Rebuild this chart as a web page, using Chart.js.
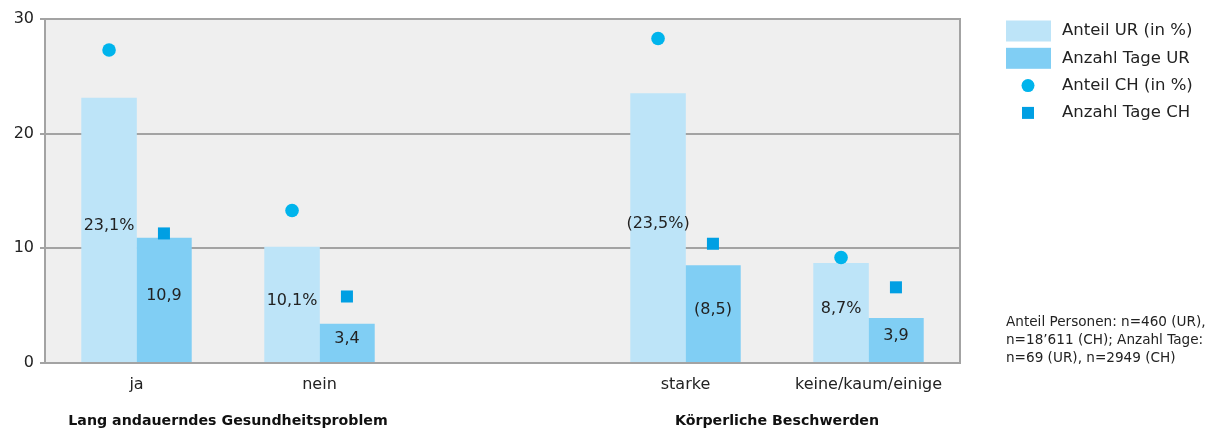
<!DOCTYPE html>
<html>
<head>
<meta charset="utf-8">
<script src="https://cdn.jsdelivr.net/npm/chart.js@4/dist/chart.umd.min.js"></script>
<style>
  html, body { margin: 0; padding: 0; background: #fff; }
  #wrap { width: 1215px; height: 433px; position: relative; }
</style>
</head>
<body>
<div id="wrap"><canvas id="chart" width="1215" height="433"></canvas></div>
<script>
const categories = ["ja", "nein", "", "starke", "keine/kaum/einige"];
const anteilUR = [23.1, 10.1, null, 23.5, 8.7];
const tageUR = [10.9, 3.4, null, 8.5, 3.9];
const anteilCH = [27.3, 13.3, null, 28.3, 9.2];
const tageCH = [11.3, 5.8, null, 10.4, 6.6];
const anteilURLabels = ["23,1%", "10,1%", "", "(23,5%)", "8,7%"];
const tageURLabels = ["10,9", "3,4", "", "(8,5)", "3,9"];
const groups = [
	{ text: "Lang andauerndes Gesundheitsproblem", from: 0, to: 1 },
	{ text: "Körperliche Beschwerden", from: 3, to: 4 }
];
const legendNames = ["Anteil UR (in %)", "Anzahl Tage UR", "Anteil CH (in %)", "Anzahl Tage CH"];
const noteLines = ["Anteil Personen: n=460 (UR),", "n=18’611 (CH); Anzahl Tage:", "n=69 (UR), n=2949 (CH)"];

const FONT = "'DejaVu Sans', sans-serif";
const colLight = "#bde4f8";
const colMid = "#80cef4";
const colCircle = "#00b4ec";
const colSquare = "#009fe3";
const frameColor = "#a3a3a3";

// "Anteil" sits left of the category centre, "Anzahl Tage" right of it
const SHIFT = 0.15;
function toPoints(values, shift) {
	return values.map((v, i) => (v === null ? null : { x: i + shift, y: v })).filter(p => p);
}

const framePlugin = {
	id: "frame",
	beforeDraw(chart) {
		const { ctx, chartArea: a } = chart;
		ctx.save();
		ctx.fillStyle = "#efefef";
		ctx.fillRect(a.left, a.top, a.right - a.left, a.bottom - a.top);
		ctx.restore();
	},
	afterDatasetsDraw(chart) {
		const { ctx, chartArea: a } = chart;
		ctx.save();
		ctx.strokeStyle = frameColor;
		ctx.lineWidth = 2;
		ctx.strokeRect(a.left, a.top, a.right - a.left, a.bottom - a.top);

		// value labels inside the bars
		ctx.fillStyle = "#222";
		ctx.font = "16px " + FONT;
		ctx.textAlign = "center";
		ctx.textBaseline = "middle";
		[anteilURLabels, tageURLabels].forEach((labels, d) => {
			const src = chart.data.datasets[d].data;
			chart.getDatasetMeta(d).data.forEach((bar, j) => {
				const text = labels[Math.round(src[j].x)];
				if (!text) return;
				const p = bar.getProps(["x", "y", "base"], true);
				ctx.fillText(text, p.x, (p.y + p.base) / 2 - 4);
			});
		});

		// group titles under the category labels
		const xs = chart.scales.x;
		ctx.font = "bold 14.2px " + FONT;
		ctx.fillStyle = "#111";
		groups.forEach(g => {
			const cx = (xs.getPixelForValue(g.from) + xs.getPixelForValue(g.to)) / 2;
			ctx.fillText(g.text, cx, 421);
		});

		// legend
		const lx = 1006;
		ctx.textAlign = "left";
		ctx.font = "16.5px " + FONT;
		legendNames.forEach((name, i) => {
			const cy = 31 + i * 27.3;
			if (i === 0 || i === 1) {
				ctx.fillStyle = i === 0 ? colLight : colMid;
				ctx.fillRect(lx, cy - 10.5, 45, 21);
			} else if (i === 2) {
				ctx.fillStyle = colCircle;
				ctx.beginPath();
				ctx.arc(lx + 22, cy, 6.5, 0, Math.PI * 2);
				ctx.fill();
			} else {
				ctx.fillStyle = colSquare;
				ctx.fillRect(lx + 16, cy - 6, 12, 12);
			}
			ctx.fillStyle = "#222";
			ctx.fillText(name, 1062, cy);
		});

		// sample size note
		ctx.font = "13.6px " + FONT;
		noteLines.forEach((line, i) => ctx.fillText(line, 1006, 322 + i * 18));
		ctx.restore();
	}
};

const barOpts = { xAxisID: "xp", grouped: false, categoryPercentage: 1, barPercentage: 1 };

new Chart(document.getElementById("chart"), {
	data: {
		labels: categories,
		datasets: [
			Object.assign({
				type: "bar",
				label: legendNames[0],
				data: toPoints(anteilUR, -SHIFT),
				backgroundColor: colLight,
				order: 2
			}, barOpts),
			Object.assign({
				type: "bar",
				label: legendNames[1],
				data: toPoints(tageUR, SHIFT),
				backgroundColor: colMid,
				order: 2
			}, barOpts),
			{
				type: "scatter",
				label: legendNames[2],
				xAxisID: "xp",
				data: toPoints(anteilCH, -SHIFT),
				pointStyle: "circle",
				pointRadius: 6.8,
				backgroundColor: colCircle,
				borderWidth: 0,
				order: 1
			},
			{
				type: "scatter",
				label: legendNames[3],
				xAxisID: "xp",
				data: toPoints(tageCH, SHIFT),
				pointStyle: "rect",
				pointRadius: 8.5,
				backgroundColor: colSquare,
				borderWidth: 0,
				order: 1
			}
		]
	},
	options: {
		responsive: false,
		animation: false,
		layout: { padding: { top: 19, right: 255, left: 0, bottom: 0 } },
		plugins: {
			legend: { display: false },
			tooltip: { enabled: false }
		},
		scales: {
			x: {
				type: "category",
				offset: true,
				grid: { display: false, drawTicks: false },
				border: { display: false },
				ticks: { color: "#222", font: { family: FONT, size: 16 }, padding: 12 },
				afterFit(scale) { scale.height = 70; }
			},
			xp: {
				type: "linear",
				display: false,
				offset: false,
				min: -0.5,
				max: 4.5,
				ticks: { stepSize: 1 }
			},
			y: {
				min: 0,
				max: 30,
				ticks: { stepSize: 10, color: "#222", font: { family: FONT, size: 16 }, padding: 6 },
				grid: {
					color: ctx => (ctx.tick && (ctx.tick.value === 0 || ctx.tick.value === 30) ? "rgba(0,0,0,0)" : frameColor),
					tickColor: frameColor,
					tickLength: 5,
					lineWidth: 2
				},
				border: { display: false },
				afterFit(scale) { scale.width = 45; }
			}
		}
	},
	plugins: [framePlugin]
});
</script>
</body>
</html>
